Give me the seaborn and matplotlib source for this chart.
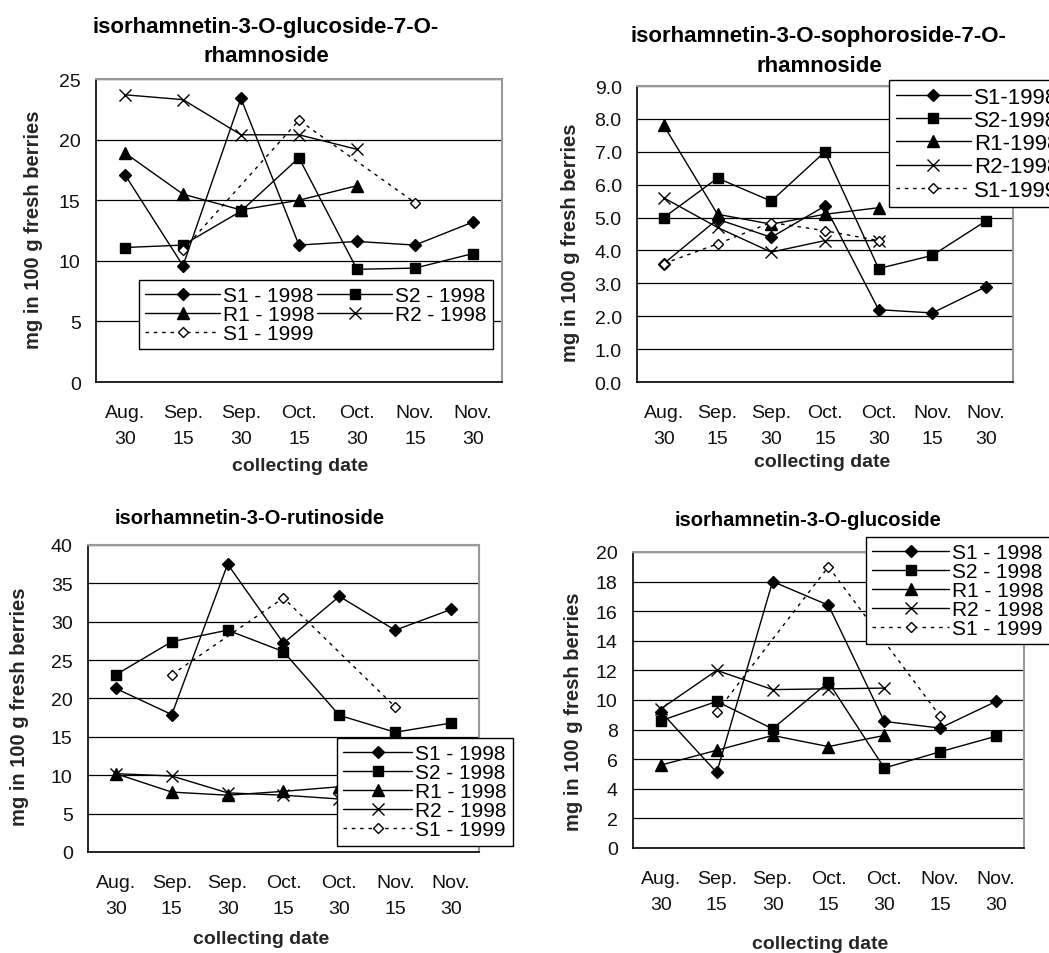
import numpy as np
import pandas as pd
import matplotlib
matplotlib.use("Agg")
import matplotlib.pyplot as plt
import seaborn as sns

# ==========================================
# Data (mg in 100 g fresh berries)
# ==========================================

nan = np.nan
dates = ["Aug.\n30", "Sep.\n15", "Sep.\n30", "Oct.\n15", "Oct.\n30", "Nov.\n15", "Nov.\n30"]

# isorhamnetin-3-O-glucoside-7-O-rhamnoside
g7r_s1_98 = [17.1, 9.6, 23.4, 11.3, 11.6, 11.3, 13.2]
g7r_s2_98 = [11.1, 11.3, 14.1, 18.5, 9.3, 9.4, 10.6]
g7r_r1_98 = [18.9, 15.5, 14.2, 15.0, 16.2, nan, nan]
g7r_r2_98 = [23.7, 23.3, 20.4, 20.4, 19.2, nan, nan]
g7r_s1_99 = [nan, 10.9, nan, 21.6, nan, 14.8, nan]

# isorhamnetin-3-O-sophoroside-7-O-rhamnoside
soph_s1_98 = [3.6, 4.95, 4.4, 5.35, 2.2, 2.1, 2.9]
soph_s2_98 = [5.0, 6.2, 5.5, 7.0, 3.45, 3.85, 4.9]
soph_r1_98 = [7.8, 5.1, 4.8, 5.1, 5.3, nan, nan]
soph_r2_98 = [5.6, 4.7, 3.95, 4.3, 4.3, nan, nan]
soph_s1_99 = [3.6, 4.2, 4.85, 4.6, 4.3, nan, nan]

# isorhamnetin-3-O-rutinoside
rut_s1_98 = [21.3, 17.9, 37.5, 27.2, 33.3, 28.9, 31.6]
rut_s2_98 = [23.1, 27.4, 28.9, 26.1, 17.8, 15.6, 16.8]
rut_r1_98 = [10.2, 7.8, 7.4, 7.9, 8.5, nan, nan]
rut_r2_98 = [10.2, 9.9, 7.7, 7.4, 6.9, nan, nan]
rut_s1_99 = [nan, 23.1, nan, 33.1, nan, 18.9, nan]

# isorhamnetin-3-O-glucoside
glc_s1_98 = [9.2, 5.1, 18.0, 16.4, 8.55, 8.1, 9.9]
glc_s2_98 = [8.6, 9.9, 8.05, 11.2, 5.4, 6.5, 7.55]
glc_r1_98 = [5.6, 6.6, 7.6, 6.85, 7.6, nan, nan]
glc_r2_98 = [9.4, 12.0, 10.7, 10.75, 10.8, nan, nan]
glc_s1_99 = [nan, 9.2, nan, 19.0, nan, 8.9, nan]

# ==========================================
# Style
# ==========================================

sns.set_style("white")
plt.rcParams['font.family'] = ['Liberation Sans', 'DejaVu Sans']
plt.rcParams['text.color'] = 'black'

styles = {
    "S1": dict(marker='D', markersize=6.3, markerfacecolor='black', linestyle='-'),
    "S2": dict(marker='s', markersize=7.4, markerfacecolor='black', linestyle='-'),
    "R1": dict(marker='^', markersize=8.2, markerfacecolor='black', linestyle='-'),
    "R2": dict(marker='x', markersize=9, markerfacecolor='black', linestyle='-'),
    "S99": dict(marker='D', markersize=5.2, markerfacecolor='white', linestyle=(0, (2.5, 3.5))),
}

fig = plt.figure(figsize=(10.49, 9.54), dpi=100)


def draw_panel(rect, series, labels, ymax, ystep, yfmt, title, title_fs, title_ls, title_xy,
               ylab_xy, xlab_xy, leg_xy, leg_ncol, leg_spacing, leg_fs, leg_hl):
    ax = fig.add_axes(rect)
    keys = ["S1", "S2", "R1", "R2", "S99"]
    for key, vals, lbl in zip(keys, series, labels):
        df = pd.DataFrame({"pos": np.arange(len(dates)), "val": vals}).dropna()
        sns.lineplot(data=df, x="pos", y="val", ax=ax, color='black', lw=1.0,
                     markeredgecolor='black', markeredgewidth=1.0,
                     errorbar=None, label=lbl, **styles[key])

    ax.set_xlim(-0.5, 6.5)
    ax.set_ylim(0, ymax)
    yt = np.arange(0, ymax + ystep / 2, ystep)
    ax.set_yticks(yt)
    ax.set_yticklabels([yfmt.format(v) for v in yt])
    ax.set_xticks(range(len(dates)))
    ax.set_xticklabels(dates, linespacing=1.7)
    ax.set_xticks(np.arange(-0.5, 7, 1), minor=True)
    ax.tick_params(axis='x', which='major', length=0, pad=16, labelsize=14, labelcolor='#111111')
    ax.tick_params(axis='x', which='minor', length=5, width=1, color='black', direction='out')
    ax.tick_params(axis='y', length=5, width=1, color='black', direction='out', pad=6,
                   labelsize=14, labelcolor='#111111')
    ax.yaxis.grid(True, color='black', lw=0.9)
    ax.set_axisbelow(True)

    for side in ['left', 'bottom']:
        ax.spines[side].set_color('black')
        ax.spines[side].set_linewidth(1.2)
    for side in ['top', 'right']:
        ax.spines[side].set_color('#999999')
        ax.spines[side].set_linewidth(1.5)

    ax.set_ylabel("mg in 100 g fresh berries", fontsize=14.5, fontweight='bold')
    ax.yaxis.label.set_va('center')
    ax.yaxis.set_label_coords(*ylab_xy)
    ax.set_xlabel("collecting date", fontsize=14, fontweight='bold')
    ax.xaxis.label.set_va('center')
    ax.xaxis.set_label_coords(*xlab_xy)

    ax.text(title_xy[0], title_xy[1], title, transform=ax.transAxes, ha='center', va='center',
            fontsize=title_fs, fontweight='bold', linespacing=title_ls)

    handles, lbls = ax.get_legend_handles_labels()
    if leg_ncol == 2:
        order = [0, 2, 4, 1, 3]
        handles = [handles[i] for i in order]
        lbls = [lbls[i] for i in order]
    leg = ax.legend(handles, lbls, loc='upper left', bbox_to_anchor=leg_xy, ncol=leg_ncol,
                    fontsize=leg_fs, frameon=True, fancybox=False, framealpha=1,
                    edgecolor='black', handlelength=leg_hl, handletextpad=0.15,
                    columnspacing=0.1, labelspacing=leg_spacing, borderpad=0.3,
                    borderaxespad=0)
    leg.get_frame().set_linewidth(1.0)
    leg.set_zorder(10)
    return ax


labels_sp = ["S1 - 1998", "S2 - 1998", "R1 - 1998", "R2 - 1998", "S1 - 1999"]
labels_ns = ["S1-1998", "S2-1998", "R1-1998", "R2-1998", "S1-1999"]

draw_panel([0.0915, 0.5985, 0.387, 0.3176],
           [g7r_s1_98, g7r_s2_98, g7r_r1_98, g7r_r2_98, g7r_s1_99], labels_sp,
           25, 5, "{:.0f}", "isorhamnetin-3-O-glucoside-7-O-\nrhamnoside", 16, 1.5, (0.419, 1.125),
           (-0.155, 0.505), (0.502, -0.274), (0.106, 0.337), 2, 0.0, 15, 3.6)

draw_panel([0.6072, 0.5985, 0.3584, 0.3103],
           [soph_s1_98, soph_s2_98, soph_r1_98, soph_r2_98, soph_s1_99], labels_ns,
           9, 1, "{:.1f}", "isorhamnetin-3-O-sophoroside-7-O-\nrhamnoside", 16, 1.6, (0.484, 1.12),
           (-0.178, 0.473), (0.492, -0.267), (0.670, 1.02), 1, 0.1, 16, 3.4)

draw_panel([0.0839, 0.1059, 0.3727, 0.3218],
           [rut_s1_98, rut_s2_98, rut_r1_98, rut_r2_98, rut_s1_99], labels_sp,
           40, 5, "{:.0f}", "isorhamnetin-3-O-rutinoside", 14.5, 1.2, (0.414, 1.088),
           (-0.174, 0.476), (0.442, -0.283), (0.637, 0.371), 1, 0.0, 15, 3.3)

draw_panel([0.6034, 0.1101, 0.3727, 0.3103],
           [glc_s1_98, glc_s2_98, glc_r1_98, glc_r2_98, glc_s1_99], labels_sp,
           20, 2, "{:.0f}", "isorhamnetin-3-O-glucoside", 14.5, 1.2, (0.448, 1.111),
           (-0.153, 0.463), (0.478, -0.324), (0.596, 1.051), 1, 0.0, 15, 3.7)

plt.savefig("out.png", dpi=100)
